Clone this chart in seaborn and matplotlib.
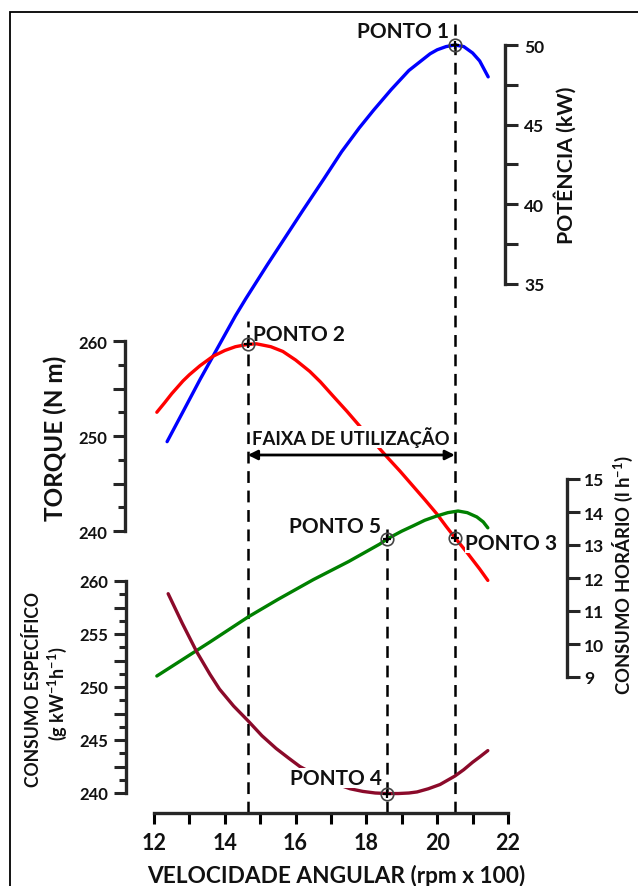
import numpy as np
import pandas as pd
import matplotlib
matplotlib.use("Agg")
import matplotlib.pyplot as plt
from matplotlib.patches import Rectangle
from matplotlib.ticker import FixedLocator
import seaborn as sns

sns.set_style("white")
plt.rcParams['font.family'] = ['Lato', 'DejaVu Sans']
plt.rcParams['font.weight'] = 'bold'
plt.rcParams['mathtext.fontset'] = 'custom'
plt.rcParams['mathtext.rm'] = 'Lato:bold'
plt.rcParams['mathtext.bf'] = 'Lato:bold'
plt.rcParams['mathtext.it'] = 'Lato:bold'
plt.rcParams['mathtext.default'] = 'rm'
plt.rcParams['lines.scale_dashes'] = False

# ---------------- data ----------------
pot_rpm = [12.37, 12.8, 13.3, 13.8, 14.3, 14.6, 15.2, 15.7, 16.2, 16.8, 17.3, 17.8, 18.2,
           18.7, 19.2, 19.6, 19.8, 20.0, 20.25, 20.5, 20.75, 21.0, 21.2, 21.44]
pot_kw = [25.1, 26.9, 29.0, 31.0, 33.0, 34.1, 36.2, 37.9, 39.6, 41.6, 43.3, 44.8, 45.9,
          47.2, 48.4, 49.1, 49.45, 49.7, 49.9, 50.0, 49.9, 49.5, 49.0, 48.0]

tor_rpm = [12.08, 12.3, 12.5, 12.82, 13.0, 13.3, 13.67, 14.0, 14.3, 14.65, 14.9, 15.3, 15.64,
           16.0, 16.4, 16.7, 17.06, 17.45, 17.82, 18.2, 18.58, 18.95, 19.3, 19.65, 19.99,
           20.25, 20.5, 20.85, 21.2, 21.43]
tor_nm = [252.5, 253.5, 254.45, 255.8, 256.45, 257.4, 258.4, 259.0, 259.4, 259.65, 259.7,
          259.4, 258.9, 258.0, 256.8, 255.7, 254.2, 252.6, 251.0, 249.4, 247.8, 246.3,
          244.8, 243.3, 241.8, 240.5, 239.3, 237.7, 236.0, 234.8]

hor_rpm = [12.08, 13.58, 14.66, 15.5, 16.5, 17.5, 18.38, 18.58, 19.0, 19.32, 19.65, 19.99,
           20.3, 20.59, 20.85, 21.12, 21.3, 21.43]
hor_lh = [9.03, 10.06, 10.82, 11.35, 11.95, 12.5, 13.03, 13.18, 13.42, 13.58, 13.75, 13.88,
          13.98, 14.03, 13.98, 13.85, 13.7, 13.52]

esp_rpm = [12.4, 12.8, 13.21, 13.58, 13.85, 14.25, 14.66, 15.05, 15.45, 15.8, 16.12, 16.45,
           16.8, 17.2, 17.54, 17.9, 18.25, 18.58, 18.9, 19.2, 19.43, 19.75, 20.08, 20.5,
           20.75, 21.0, 21.2, 21.43]
esp_g = [258.8, 256.0, 253.3, 251.2, 249.8, 248.2, 246.8, 245.4, 244.2, 243.3, 242.5, 241.9,
         241.4, 240.8, 240.4, 240.15, 240.0, 239.95, 239.95, 240.0, 240.1, 240.4, 240.8,
         241.6, 242.2, 242.9, 243.4, 244.0]

ponto_labels = ["PONTO 1", "PONTO 2", "PONTO 3", "PONTO 4", "PONTO 5"]
ponto_rpm = [20.5, 14.65, 20.5, 18.58, 18.58]
ponto_val = [50.0, 259.65, 239.3, 239.95, 13.18]

x_ticks = [12, 14, 16, 18, 20, 22]

# ---------------- layout helpers ----------------
W, H = 638, 887
fig = plt.figure(figsize=(W / 100, H / 100), dpi=100)
fig.patch.set_facecolor('white')

def fx(px):
    return px / W

def fy(py):
    return 1 - py / H

L, R, T, B = 154, 508, 20, 814
ax = fig.add_axes([fx(L), fy(B), (R - L) / W, (B - T) / H])
ax.set_xlim(12, 22)
ax.set_ylim(0, 1)
ax.patch.set_visible(False)

def ylim_for(v0, py0, s):
    return (v0 - (B - py0) / s, v0 + (py0 - T) / s)

def xfrac(px):
    return (px - L) / (R - L)

TXT = '#111111'
LW_SP = 2.4

# main x-axis
for s in ['left', 'right', 'top']:
    ax.spines[s].set_visible(False)
ax.spines['bottom'].set_bounds(12, 22)
ax.spines['bottom'].set_linewidth(LW_SP)
ax.set_xticks(x_ticks)
ax.set_xticklabels([str(v) for v in x_ticks])
ax.xaxis.set_minor_locator(FixedLocator([13, 15, 17, 19, 21]))
ax.tick_params(axis='x', which='both', direction='out', length=8, width=2.2,
               bottom=True, labelsize=15.5, pad=6, colors='k', labelcolor=TXT)
ax.set_yticks([])

def make_twin(side, pos_px, lims, bounds):
    t = ax.twinx()
    t.patch.set_visible(False)
    for s in ['left', 'right', 'top', 'bottom']:
        t.spines[s].set_visible(False)
    t.set_ylim(*lims)
    sp = t.spines[side]
    sp.set_visible(True)
    sp.set_position(('axes', xfrac(pos_px)))
    sp.set_bounds(*bounds)
    sp.set_linewidth(LW_SP)
    t.yaxis.set_ticks_position(side)
    return t

# Potência
tp = make_twin('right', 505, ylim_for(50, 46, 15.93), (35, 50))
tp.set_yticks(np.arange(35, 50.01, 2.5))
tp.set_yticklabels(['35', '', '40', '', '45', '', '50'])
tp.tick_params(axis='y', direction='out', length=9.5, width=2.2, labelsize=12.5, pad=4.5,
               labelcolor=TXT)

# Torque
tt = make_twin('left', 125, ylim_for(260, 342, 9.5), (240, 260))
tt.set_yticks(np.arange(240, 260.01, 5))
tt.set_yticklabels(['240', '', '250', '', '260'])
tt.yaxis.set_minor_locator(FixedLocator([242.5, 247.5, 252.5, 257.5]))
tt.tick_params(axis='y', which='major', direction='out', length=9, width=2.2,
               labelsize=12, pad=4, labelcolor=TXT, left=True, right=False,
               labelleft=True, labelright=False)
tt.tick_params(axis='y', which='minor', direction='out', length=5, width=2.2,
               left=True, right=False)

# Consumo horário
th = make_twin('right', 567, ylim_for(15, 480, 33), (9, 15))
th.set_yticks(np.arange(9, 15.01, 1))
th.set_yticklabels([str(v) for v in range(9, 16)])
th.tick_params(axis='y', direction='out', length=9.5, width=2.2, labelsize=12.5, pad=3,
               labelcolor=TXT)

# Consumo específico
te = make_twin('left', 126, ylim_for(260, 582, 10.6), (240, 260))
te.set_yticks(np.arange(240, 260.01, 2.5))
te.set_yticklabels(['240', '', '245', '', '250', '', '255', '', '260'])
te.yaxis.set_minor_locator(FixedLocator(list(np.arange(241.25, 260, 2.5))))
te.tick_params(axis='y', which='major', direction='out', length=9, width=2.2,
               labelsize=12, pad=4, labelcolor=TXT, left=True, right=False,
               labelleft=True, labelright=False)
te.tick_params(axis='y', which='minor', direction='out', length=5, width=2.2,
               left=True, right=False)

for t in (tp, tt, th, te):
    t.set_ylabel('')
    t.set_xlabel('')

# dashed guide lines
dash = (0, (8.5, 5.5))
tops_px = {0: 25, 1: 322, 3: 525}
for i, top in tops_px.items():
    ax.axvline(ponto_rpm[i], ymin=0, ymax=(B - top) / (B - T), color='k', lw=1.8,
               ls=dash, zorder=1)

# curves
LWC = 2.4
sns.lineplot(x=pot_rpm, y=pot_kw, ax=tp, color='#0000FF', lw=LWC, sort=False, zorder=3)
sns.lineplot(x=tor_rpm, y=tor_nm, ax=tt, color='#FF0000', lw=LWC, sort=False, zorder=3)
sns.lineplot(x=hor_rpm, y=hor_lh, ax=th, color='#008000', lw=LWC, sort=False, zorder=3)
sns.lineplot(x=esp_rpm, y=esp_g, ax=te, color='#8B0A2A', lw=LWC, sort=False, zorder=3)
for t in (tp, tt, th, te):
    t.set_xlim(12, 22)

# markers
ponto_axes = [tp, tt, tt, te, th]
for a, xv, yv in zip(ponto_axes, ponto_rpm, ponto_val):
    a.plot([xv], [yv], marker='o', ms=9, mfc='none', mec='#444444', mew=1.2, zorder=5,
           clip_on=False)
    a.plot([xv], [yv], marker='+', ms=6, mec='k', mew=1.6, zorder=6, clip_on=False)

# arrow
arrow_y = 260 - (456 - 342) / 9.5
tt.annotate('', xy=(ponto_rpm[1], arrow_y), xytext=(ponto_rpm[2], arrow_y),
            arrowprops=dict(arrowstyle='<|-|>', lw=2.0, color='k', mutation_scale=14,
                            shrinkA=0, shrinkB=0), zorder=4)

# labels of points
wbox = dict(facecolor='white', edgecolor='none', pad=0.3)
fs_p = 15
fig.text(fx(449), fy(32), ponto_labels[0], ha='right', va='center', fontsize=fs_p,
         color=TXT, fontweight='bold')
fig.text(fx(253), fy(335), ponto_labels[1], ha='left', va='center', fontsize=fs_p,
         color=TXT, fontweight='bold')
fig.text(fx(465), fy(544), ponto_labels[2], ha='left', va='center', fontsize=fs_p,
         color=TXT, fontweight='bold', bbox=wbox)
fig.text(fx(382), fy(779), ponto_labels[3], ha='right', va='center', fontsize=fs_p,
         color=TXT, fontweight='bold', bbox=wbox)
fig.text(fx(381), fy(527), ponto_labels[4], ha='right', va='center', fontsize=fs_p,
         color=TXT, fontweight='bold', bbox=wbox)
fig.text(fx(351), fy(438), "FAIXA DE UTILIZAÇÃO", ha='center', va='center', fontsize=13.3,
         color=TXT, fontweight='bold', bbox=wbox)

# axis labels
fig.text(fx(336), fy(876), "VELOCIDADE ANGULAR (rpm x 100)", ha='center', va='center',
         fontsize=16.3, color=TXT, fontweight='bold')
fig.text(fx(565), fy(165), "POTÊNCIA (kW)", ha='center', va='center', rotation=90,
         fontsize=15.3, color=TXT, fontweight='bold')
fig.text(fx(55), fy(438), "TORQUE (N m)", ha='center', va='center', rotation=90,
         fontsize=17.5, color=TXT, fontweight='bold')
fig.text(fx(623), fy(575), "CONSUMO HORÁRIO (l h$^{-1}$)", ha='center', va='center',
         rotation=90, fontsize=13.3, color=TXT, fontweight='bold')
fig.text(fx(33), fy(690), "CONSUMO ESPECÍFICO", ha='center', va='center', rotation=90,
         fontsize=12.7, color=TXT, fontweight='bold')
fig.text(fx(57), fy(694), "(g kW$^{-1}$h$^{-1}$)", ha='center', va='center', rotation=90,
         fontsize=13, color=TXT, fontweight='bold')

# outer frame
fig.add_artist(Rectangle((fx(10), -0.2), 2, fy(13) + 0.2, transform=fig.transFigure,
                         fill=False, lw=1.3, ec='k'))

fig.savefig('out.png', dpi=100)
